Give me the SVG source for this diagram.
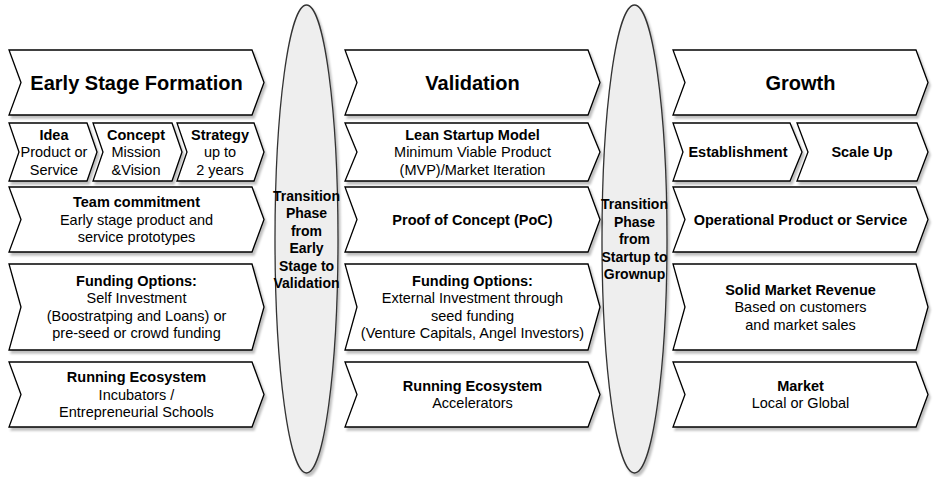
<svg xmlns="http://www.w3.org/2000/svg" width="935" height="477" viewBox="0 0 935 477">
<defs>
<filter id="sh" x="-10%" y="-10%" width="130%" height="130%">
<feDropShadow dx="2" dy="3" stdDeviation="1" flood-color="#000" flood-opacity="0.25"/>
</filter>
<style>
.chev{fill:#ffffff;stroke:#000000;stroke-width:1.3;stroke-linejoin:miter;filter:url(#sh)}
.ell{fill:#eeeeee;stroke:#333333;stroke-width:1.3;filter:url(#sh)}
text{font-family:"Liberation Sans",Arial,sans-serif;fill:#000;text-anchor:middle}
.hd{font-size:20px;font-weight:bold}
.b{font-size:14.5px;font-weight:bold}
.n{font-size:14.5px}
.eb{font-size:14px;font-weight:bold}
</style>
</defs>
<rect width="935" height="477" fill="#ffffff"/>

<g id="transition1">
<ellipse class="ell" cx="306.5" cy="239" rx="31.5" ry="234"/>
<text class="eb" x="306.5" y="200.5">Transition</text>
<text class="eb" x="306.5" y="218">Phase</text>
<text class="eb" x="306.5" y="235.5">from</text>
<text class="eb" x="306.5" y="253">Early</text>
<text class="eb" x="306.5" y="270.5">Stage to</text>
<text class="eb" x="306.5" y="288">Validation</text>
</g>
<g id="transition2">
<ellipse class="ell" cx="634.5" cy="239" rx="32.5" ry="234"/>
<text class="eb" x="634.5" y="209">Transition</text>
<text class="eb" x="634.5" y="226.5">Phase</text>
<text class="eb" x="634.5" y="244">from</text>
<text class="eb" x="634.5" y="261.5">Startup to</text>
<text class="eb" x="634.5" y="279">Grownup</text>
</g>

<!-- Column 1 -->
<g id="early-stage">
<polygon class="chev" points="9,50 252,50 264,82.5 252,115 9,115 21,82.5"/>
<text class="hd" x="136.5" y="89.5">Early Stage Formation</text>
</g>
<g id="idea">
<polygon class="chev" points="9,123 87,123 97,152 87,181 9,181 19,152"/>
<text class="b" x="54" y="139.5">Idea</text>
<text class="n" x="54" y="157">Product or</text>
<text class="n" x="54" y="174.5">Service</text>
</g>
<g id="concept">
<polygon class="chev" points="93,123 172,123 182,152 172,181 93,181 103,152"/>
<text class="b" x="136" y="139.5">Concept</text>
<text class="n" x="136" y="157">Mission</text>
<text class="n" x="136" y="174.5">&amp;Vision</text>
</g>
<g id="strategy">
<polygon class="chev" points="177,123 254,123 264,152 254,181 177,181 187,152"/>
<text class="b" x="220" y="139.5">Strategy</text>
<text class="n" x="220" y="157">up to</text>
<text class="n" x="220" y="174.5">2 years</text>
</g>
<g id="team">
<polygon class="chev" points="9,187 252,187 264,219.5 252,252 9,252 21,219.5"/>
<text class="b" x="136.5" y="207">Team commitment</text>
<text class="n" x="136.5" y="224.5">Early stage product and</text>
<text class="n" x="136.5" y="242">service prototypes</text>
</g>
<g id="funding1">
<polygon class="chev" points="9,264 252,264 264,307 252,350 9,350 21,307"/>
<text class="b" x="136.5" y="285.75">Funding Options:</text>
<text class="n" x="136.5" y="303.25">Self Investment</text>
<text class="n" x="136.5" y="320.75">(Boostratping and Loans) or</text>
<text class="n" x="136.5" y="338.25">pre-seed or crowd funding</text>
</g>
<g id="ecosystem1">
<polygon class="chev" points="9,362 252,362 264,394.5 252,427 9,427 21,394.5"/>
<text class="b" x="136.5" y="382">Running Ecosystem</text>
<text class="n" x="136.5" y="399.5">Incubators /</text>
<text class="n" x="136.5" y="417">Entrepreneurial Schools</text>
</g>

<!-- Column 2 -->
<g id="validation">
<polygon class="chev" points="345,50 588,50 600,82.5 588,115 345,115 357,82.5"/>
<text class="hd" x="472.5" y="89.5">Validation</text>
</g>
<g id="lean">
<polygon class="chev" points="345,123 588,123 600,152 588,181 345,181 357,152"/>
<text class="b" x="472.5" y="139.5">Lean Startup Model</text>
<text class="n" x="472.5" y="157">Minimum Viable Product</text>
<text class="n" x="472.5" y="174.5">(MVP)/Market Iteration</text>
</g>
<g id="poc">
<polygon class="chev" points="345,187 588,187 600,219.5 588,252 345,252 357,219.5"/>
<text class="b" x="472.5" y="224.5">Proof of Concept (PoC)</text>
</g>
<g id="funding2">
<polygon class="chev" points="345,264 588,264 600,307 588,350 345,350 357,307"/>
<text class="b" x="472.5" y="285.75">Funding Options:</text>
<text class="n" x="472.5" y="303.25">External Investment through</text>
<text class="n" x="472.5" y="320.75">seed funding</text>
<text class="n" x="472.5" y="338.25">(Venture Capitals, Angel Investors)</text>
</g>
<g id="ecosystem2">
<polygon class="chev" points="345,362 588,362 600,394.5 588,427 345,427 357,394.5"/>
<text class="b" x="472.5" y="390.75">Running Ecosystem</text>
<text class="n" x="472.5" y="408.25">Accelerators</text>
</g>

<!-- Column 3 -->
<g id="growth">
<polygon class="chev" points="673,50 916,50 928,82.5 916,115 673,115 685,82.5"/>
<text class="hd" x="800.5" y="89.5">Growth</text>
</g>
<g id="establishment">
<polygon class="chev" points="673,123 790,123 802,152 790,181 673,181 683,152"/>
<text class="b" x="738" y="157">Establishment</text>
</g>
<g id="scaleup">
<polygon class="chev" points="797,123 917,123 928,152 917,181 797,181 808,152"/>
<text class="b" x="862" y="157">Scale Up</text>
</g>
<g id="operational">
<polygon class="chev" points="673,187 916,187 928,219.5 916,252 673,252 685,219.5"/>
<text class="b" x="800.5" y="224.5">Operational Product or Service</text>
</g>
<g id="revenue">
<polygon class="chev" points="673,264 916,264 928,307 916,350 673,350 685,307"/>
<text class="b" x="800.5" y="294.5">Solid Market Revenue</text>
<text class="n" x="800.5" y="312">Based on customers</text>
<text class="n" x="800.5" y="329.5">and market sales</text>
</g>
<g id="market">
<polygon class="chev" points="673,362 916,362 928,394.5 916,427 673,427 685,394.5"/>
<text class="b" x="800.5" y="390.75">Market</text>
<text class="n" x="800.5" y="408.25">Local or Global</text>
</g>

<g id="connectors"></g>
</svg>
